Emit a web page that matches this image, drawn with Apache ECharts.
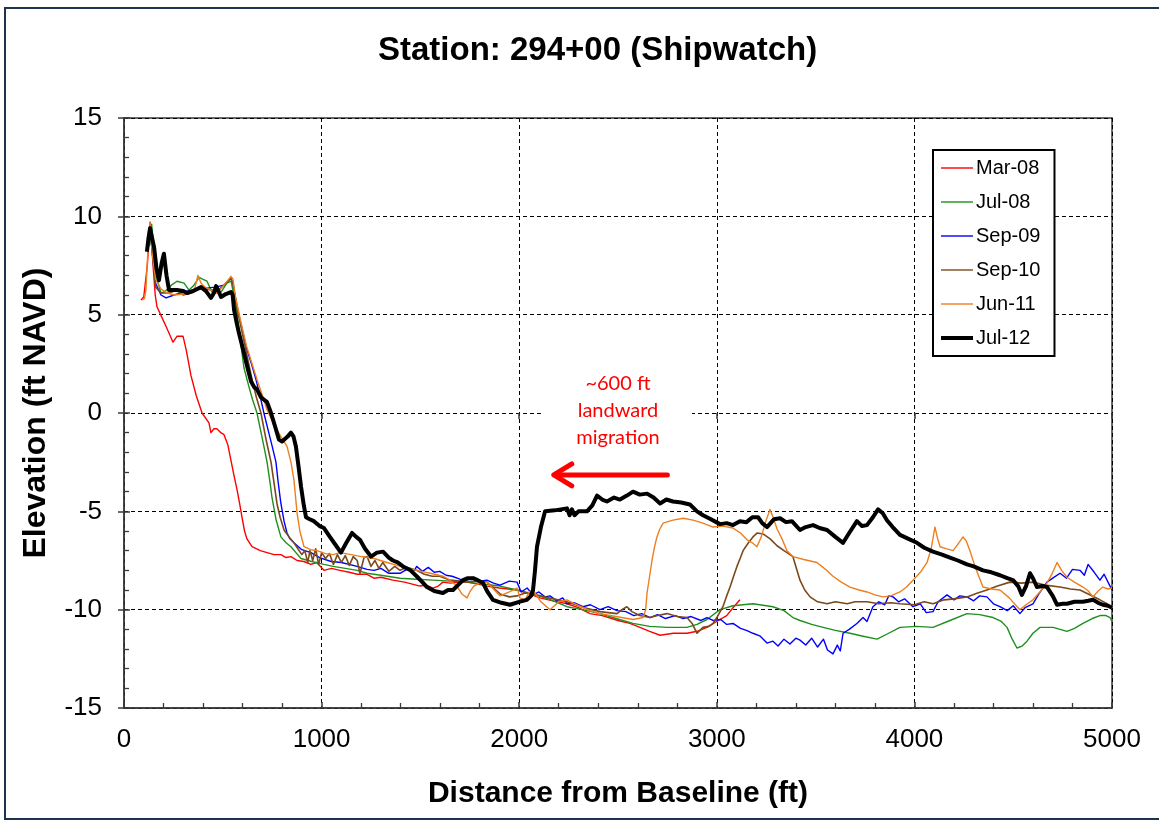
<!DOCTYPE html>
<html>
<head>
<meta charset="utf-8">
<script src="https://cdn.jsdelivr.net/npm/echarts@6/dist/echarts.min.js"></script>
<style>
  html, body { margin: 0; padding: 0; background: #fff; overflow: hidden; width: 1159px; height: 822px; }
  #frame { position: absolute; left: 4px; top: 7px; width: 1300px; height: 813px;
           border-left: 2px solid #1e3350; border-top: 2px solid #1e3350; border-bottom: 2px solid #1e3350;
           box-sizing: border-box; }
  #chart { position: absolute; left: 0; top: 0; width: 1159px; height: 822px; }
</style>
</head>
<body>
<div id="frame"></div>
<div id="chart"></div>
<script>
// ---------- data (distance ft, elevation ft NAVD) ----------
const seriesNames = ['Mar-08', 'Jul-08', 'Sep-09', 'Sep-10', 'Jun-11', 'Jul-12'];
const seriesColors = ['#ff0000', '#1f8f1f', '#0000ff', '#7a4a1c', '#ee7f1e', '#000000'];
const xTicks = [0, 1000, 2000, 3000, 4000, 5000];
const yTicks = [-15, -10, -5, 0, 5, 10, 15];

const mar08 = [[86,5.75],[100,5.9],[118,7.5],[132,9.7],[145,7.8],[158,6.0],[167,5.4],[190,4.9],[213,4.4],[248,3.6],[268,3.9],[299,3.9],[315,3.2],[339,1.9],[365,0.9],[395,0.0],[430,-0.5],[440,-1.0],[455,-0.8],[470,-0.8],[490,-1.0],[506,-1.1],[525,-1.6],[541,-2.4],[557,-3.2],[572,-3.9],[585,-4.6],[597,-5.3],[610,-6.0],[622,-6.4],[648,-6.8],[690,-7.0],[724,-7.1],[760,-7.2],[794,-7.2],[820,-7.35],[845,-7.3],[876,-7.5],[910,-7.55],[946,-7.7],[975,-7.6],[1012,-8.0],[1050,-7.9],[1093,-8.0],[1140,-8.1],[1180,-8.2],[1230,-8.2],[1265,-8.4],[1300,-8.35],[1361,-8.5],[1420,-8.6],[1498,-8.8],[1530,-8.75],[1564,-8.9],[1590,-8.8],[1614,-8.6],[1650,-8.65],[1700,-8.6],[1736,-8.6],[1790,-8.7],[1837,-8.8],[1900,-8.9],[1989,-9.0],[2050,-9.2],[2105,-9.4],[2170,-9.55],[2242,-9.7],[2300,-9.9],[2358,-10.2],[2420,-10.3],[2500,-10.55],[2560,-10.7],[2611,-10.9],[2660,-11.1],[2713,-11.3],[2780,-11.2],[2849,-11.2],[2900,-11.1],[2950,-10.9],[3016,-10.5],[3050,-10.3],[3082,-9.9],[3117,-9.5]];

const jul08 = [[130,8.5],[140,9.6],[150,8.4],[165,6.9],[187,6.1],[210,6.2],[240,6.5],[268,6.7],[304,6.6],[329,6.25],[354,6.5],[380,6.9],[400,6.8],[420,6.7],[445,6.15],[470,6.2],[491,6.15],[521,6.6],[542,6.7],[557,5.9],[567,5.5],[585,4.0],[607,2.3],[633,1.3],[650,0.7],[673,0],[700,-1.3],[724,-2.5],[740,-3.6],[749,-4.3],[769,-5.4],[794,-6.3],[820,-6.6],[845,-6.8],[870,-7.1],[896,-7.4],[950,-7.55],[1012,-7.7],[1058,-7.8],[1120,-7.9],[1180,-8.0],[1230,-8.15],[1300,-8.25],[1397,-8.4],[1480,-8.45],[1564,-8.5],[1650,-8.55],[1736,-8.6],[1820,-8.7],[1903,-8.8],[1990,-9.0],[2070,-9.2],[2160,-9.5],[2242,-9.85],[2320,-10.0],[2409,-10.2],[2490,-10.45],[2576,-10.7],[2660,-10.85],[2748,-10.9],[2849,-10.9],[2900,-10.75],[2950,-10.5],[3016,-10.0],[3082,-9.8],[3183,-9.7],[3284,-9.85],[3340,-10.05],[3385,-10.4],[3421,-10.55],[3480,-10.75],[3538,-10.9],[3600,-11.05],[3674,-11.2],[3740,-11.35],[3811,-11.5],[3860,-11.25],[3927,-10.9],[4010,-10.85],[4094,-10.9],[4180,-10.55],[4266,-10.2],[4330,-10.25],[4398,-10.4],[4440,-10.6],[4469,-10.9],[4495,-11.5],[4519,-11.95],[4545,-11.85],[4570,-11.6],[4600,-11.2],[4636,-10.9],[4702,-10.9],[4772,-11.1],[4810,-10.95],[4853,-10.7],[4900,-10.45],[4939,-10.3],[4970,-10.3],[4990,-10.4],[5000,-10.6]];

const sep09 = [[132,9.5],[145,8.0],[160,6.6],[187,6.0],[213,5.85],[253,6.0],[300,6.15],[339,6.25],[380,6.3],[420,6.35],[460,6.4],[506,6.5],[530,6.75],[541,6.85],[552,6.6],[560,6.0],[590,4.6],[620,3.3],[645,2.5],[668,1.7],[690,0.8],[708,0],[730,-0.9],[750,-1.7],[769,-2.5],[780,-3.5],[794,-4.6],[810,-5.5],[825,-6.1],[840,-6.4],[860,-6.6],[900,-6.95],[946,-7.1],[990,-7.35],[1048,-7.55],[1100,-7.6],[1180,-7.8],[1230,-7.95],[1265,-8.0],[1300,-7.9],[1340,-8.15],[1397,-8.15],[1440,-7.9],[1470,-8.0],[1481,-7.8],[1510,-8.05],[1540,-7.85],[1570,-8.1],[1598,-8.05],[1630,-8.25],[1660,-8.3],[1700,-8.45],[1736,-8.5],[1770,-8.35],[1800,-8.55],[1837,-8.5],[1870,-8.65],[1903,-8.75],[1950,-8.55],[1989,-8.6],[2010,-9.1],[2040,-8.9],[2070,-9.25],[2100,-9.1],[2130,-9.35],[2156,-9.3],[2190,-9.55],[2220,-9.4],[2242,-9.7],[2280,-9.65],[2323,-9.85],[2360,-9.75],[2409,-10.0],[2450,-9.85],[2495,-10.05],[2540,-10.1],[2580,-10.3],[2620,-10.2],[2662,-10.4],[2700,-10.25],[2740,-10.45],[2790,-10.3],[2830,-10.45],[2870,-10.35],[2920,-10.55],[2950,-10.4],[2981,-10.55],[3020,-10.5],[3050,-10.75],[3082,-10.7],[3120,-10.95],[3150,-11.05],[3183,-11.2],[3220,-11.35],[3254,-11.7],[3284,-11.6],[3310,-11.85],[3340,-11.5],[3370,-11.75],[3400,-11.45],[3421,-11.55],[3450,-11.8],[3480,-11.45],[3510,-11.9],[3540,-11.5],[3560,-12.05],[3588,-12.25],[3610,-11.8],[3625,-12.1],[3639,-11.2],[3670,-11.0],[3709,-10.7],[3740,-10.4],[3760,-10.6],[3790,-9.85],[3820,-9.6],[3850,-9.75],[3870,-9.3],[3892,-9.35],[3920,-9.6],[3950,-9.45],[3993,-9.85],[4030,-9.7],[4060,-10.15],[4094,-10.1],[4120,-9.6],[4165,-9.25],[4200,-9.5],[4230,-9.3],[4266,-9.35],[4300,-9.55],[4330,-9.3],[4367,-9.35],[4400,-9.7],[4433,-9.85],[4470,-10.05],[4500,-9.8],[4534,-10.2],[4560,-9.9],[4600,-9.7],[4630,-9.2],[4671,-8.6],[4700,-8.4],[4737,-8.15],[4770,-8.4],[4800,-7.95],[4838,-8.0],[4860,-8.25],[4879,-7.7],[4910,-8.1],[4939,-8.5],[4960,-8.2],[4990,-8.8],[5000,-9.0]];

const sep10 = [[132,9.5],[145,8.0],[160,6.4],[187,6.1],[230,6.1],[268,6.25],[300,6.0],[339,6.1],[380,6.4],[420,6.3],[470,6.2],[506,6.5],[541,6.85],[555,6.4],[575,5.2],[600,4.0],[625,2.8],[648,1.7],[670,0.8],[693,0],[720,-1.4],[744,-2.5],[760,-3.6],[774,-4.6],[790,-5.3],[810,-5.95],[835,-6.3],[860,-6.6],[880,-6.9],[900,-7.2],[915,-7.0],[930,-7.6],[941,-7.0],[955,-7.5],[970,-6.9],[985,-7.7],[1000,-7.1],[1020,-7.4],[1040,-7.15],[1060,-7.7],[1080,-7.2],[1100,-7.6],[1120,-7.25],[1140,-7.75],[1160,-7.3],[1180,-7.5],[1194,-8.15],[1215,-7.35],[1230,-7.3],[1250,-7.8],[1270,-7.5],[1290,-7.9],[1310,-7.6],[1340,-8.05],[1370,-7.8],[1397,-8.0],[1430,-7.85],[1481,-8.0],[1520,-8.2],[1560,-8.3],[1598,-8.3],[1650,-8.5],[1700,-8.55],[1736,-8.6],[1790,-8.55],[1837,-8.6],[1870,-8.9],[1903,-9.2],[1950,-9.35],[1989,-9.3],[2030,-9.15],[2070,-9.2],[2150,-9.4],[2242,-9.6],[2330,-9.9],[2409,-10.1],[2450,-10.15],[2495,-10.2],[2520,-10.0],[2545,-9.85],[2570,-10.1],[2610,-10.3],[2662,-10.4],[2700,-10.3],[2748,-10.2],[2800,-10.35],[2849,-10.4],[2875,-10.7],[2900,-11.2],[2930,-10.9],[2960,-10.85],[2981,-10.7],[3000,-10.4],[3031,-9.85],[3050,-9.3],[3067,-8.85],[3085,-8.3],[3102,-7.8],[3120,-7.35],[3133,-7.0],[3160,-6.6],[3183,-6.3],[3205,-6.1],[3234,-6.15],[3270,-6.4],[3305,-6.75],[3340,-7.0],[3385,-7.3],[3400,-7.8],[3421,-8.5],[3445,-9.0],[3472,-9.35],[3510,-9.6],[3558,-9.7],[3600,-9.6],[3660,-9.7],[3700,-9.6],[3760,-9.6],[3820,-9.7],[3880,-9.65],[3927,-9.7],[4000,-9.75],[4050,-9.6],[4094,-9.7],[4150,-9.5],[4200,-9.45],[4266,-9.35],[4320,-9.15],[4367,-9.0],[4420,-8.8],[4484,-8.6],[4540,-8.65],[4600,-8.6],[4660,-8.75],[4737,-8.85],[4790,-8.95],[4838,-9.0],[4890,-9.25],[4939,-9.5],[4975,-9.7],[5000,-9.9]];

const jun11 = [[91,5.75],[103,5.8],[111,6.25],[122,8.5],[132,9.7],[145,8.0],[160,6.8],[187,6.3],[220,6.1],[253,6.0],[300,6.05],[339,6.1],[360,6.4],[374,7.0],[390,6.6],[410,6.4],[440,6.25],[470,6.1],[506,6.5],[541,6.95],[552,6.8],[562,6.0],[590,4.7],[620,3.4],[648,2.5],[673,1.7],[700,0.9],[724,0.15],[760,-0.6],[794,-1.2],[825,-1.7],[845,-2.5],[860,-3.4],[876,-5.1],[890,-6.0],[911,-6.8],[945,-6.95],[977,-7.0],[1020,-7.15],[1058,-7.2],[1093,-7.1],[1150,-7.2],[1200,-7.3],[1265,-7.4],[1331,-7.6],[1400,-7.8],[1481,-8.0],[1550,-8.15],[1614,-8.3],[1650,-8.5],[1685,-8.8],[1710,-9.2],[1736,-9.4],[1750,-9.1],[1770,-8.8],[1800,-8.65],[1837,-8.6],[1870,-8.95],[1903,-9.3],[1950,-9.1],[1989,-8.9],[2004,-9.4],[2030,-9.5],[2050,-9.1],[2070,-9.0],[2110,-9.6],[2156,-10.0],[2200,-9.6],[2242,-9.5],[2300,-9.8],[2358,-10.05],[2409,-10.2],[2490,-10.35],[2576,-10.5],[2627,-10.4],[2640,-10.0],[2647,-9.15],[2660,-8.3],[2672,-7.5],[2685,-6.8],[2697,-6.3],[2712,-5.9],[2728,-5.6],[2778,-5.45],[2830,-5.35],[2880,-5.45],[2930,-5.6],[2981,-5.8],[3030,-5.75],[3082,-5.85],[3120,-6.1],[3153,-6.45],[3180,-6.6],[3203,-6.8],[3225,-6.3],[3245,-5.6],[3269,-4.9],[3285,-5.3],[3305,-5.9],[3330,-6.4],[3355,-7.0],[3385,-7.3],[3440,-7.45],[3507,-7.6],[3550,-7.95],[3588,-8.3],[3630,-8.6],[3674,-8.85],[3720,-9.0],[3760,-9.1],[3800,-9.25],[3841,-9.35],[3880,-9.3],[3927,-9.1],[3960,-8.85],[3993,-8.5],[4030,-8.1],[4064,-7.6],[4085,-6.9],[4104,-5.8],[4118,-6.4],[4130,-6.8],[4160,-6.9],[4196,-7.0],[4225,-6.6],[4246,-6.3],[4262,-6.5],[4281,-7.0],[4310,-7.9],[4347,-8.85],[4390,-8.95],[4433,-9.0],[4480,-9.4],[4534,-10.0],[4565,-9.75],[4600,-9.5],[4635,-9.1],[4671,-8.65],[4700,-8.1],[4722,-7.6],[4745,-8.0],[4772,-8.35],[4810,-8.6],[4853,-8.85],[4880,-9.05],[4904,-9.35],[4930,-9.05],[4954,-8.85],[4980,-8.95],[5000,-8.9]];

const jul12 = [[116,8.2],[124,8.9],[132,9.4],[142,8.9],[152,8.45],[165,7.3],[177,6.75],[190,7.6],[202,8.1],[215,7.0],[228,6.25],[268,6.25],[300,6.2],[319,6.1],[350,6.2],[390,6.4],[415,6.2],[440,5.85],[455,6.1],[466,6.45],[478,6.2],[491,5.9],[515,6.05],[541,6.15],[550,6.0],[557,5.25],[570,4.6],[582,4.05],[607,3.05],[625,2.3],[643,1.6],[660,1.3],[673,1.2],[693,0.8],[724,0.55],[744,0],[765,-0.7],[784,-1.35],[800,-1.45],[810,-1.45],[828,-1.2],[845,-1.0],[858,-1.2],[870,-1.7],[883,-2.7],[896,-3.75],[910,-4.7],[921,-5.3],[940,-5.4],[961,-5.5],[990,-5.75],[1012,-5.85],[1042,-6.3],[1070,-6.7],[1098,-7.1],[1125,-6.6],[1154,-6.1],[1175,-6.3],[1194,-6.45],[1220,-6.9],[1250,-7.3],[1280,-7.1],[1311,-7.05],[1340,-7.35],[1361,-7.5],[1385,-7.6],[1412,-7.8],[1450,-8.0],[1481,-8.3],[1510,-8.6],[1533,-8.85],[1570,-9.05],[1614,-9.15],[1640,-9.0],[1665,-9.0],[1690,-8.75],[1716,-8.5],[1740,-8.4],[1766,-8.4],[1790,-8.5],[1817,-8.65],[1840,-9.1],[1867,-9.5],[1910,-9.65],[1953,-9.75],[2000,-9.6],[2039,-9.5],[2060,-9.3],[2070,-9.0],[2080,-8.0],[2090,-6.8],[2110,-5.8],[2131,-5.0],[2180,-4.95],[2242,-4.85],[2255,-5.2],[2267,-4.9],[2280,-5.2],[2300,-5.0],[2343,-5.0],[2370,-4.7],[2394,-4.2],[2420,-4.4],[2444,-4.5],[2480,-4.3],[2510,-4.4],[2545,-4.2],[2576,-4.0],[2610,-4.15],[2647,-4.1],[2680,-4.3],[2713,-4.6],[2745,-4.4],[2778,-4.5],[2820,-4.55],[2864,-4.65],[2900,-5.0],[2930,-5.2],[2970,-5.4],[3016,-5.65],[3050,-5.6],[3082,-5.7],[3117,-5.5],[3150,-5.55],[3180,-5.3],[3209,-5.3],[3230,-5.6],[3254,-5.8],[3290,-5.4],[3320,-5.35],[3350,-5.55],[3380,-5.5],[3421,-5.95],[3450,-5.8],[3487,-5.7],[3520,-5.85],[3558,-5.95],[3600,-6.3],[3639,-6.6],[3670,-6.1],[3709,-5.5],[3735,-5.75],[3760,-5.7],[3790,-5.3],[3816,-4.9],[3840,-5.1],[3861,-5.45],[3890,-5.8],[3927,-6.2],[3970,-6.4],[4013,-6.6],[4050,-6.85],[4094,-7.05],[4140,-7.2],[4180,-7.35],[4220,-7.5],[4266,-7.7],[4300,-7.8],[4347,-8.0],[4390,-8.1],[4433,-8.25],[4470,-8.4],[4499,-8.5],[4525,-8.8],[4544,-9.25],[4565,-8.8],[4585,-8.15],[4600,-8.4],[4620,-8.85],[4650,-8.8],[4671,-8.85],[4700,-9.3],[4722,-9.75],[4750,-9.7],[4772,-9.7],[4810,-9.6],[4853,-9.6],[4880,-9.55],[4904,-9.5],[4930,-9.65],[4954,-9.75],[4980,-9.8],[5000,-9.9]];

const seriesData = [mar08, jul08, sep09, sep10, jun11, jul12];
const seriesWidths = [1.4, 1.4, 1.4, 1.6, 1.4, 4];

// annotation (data coords)
const noteLines = ['~600 ft', 'landward', 'migration'];
const noteAt = [2500, 0.15];
const arrowFrom = [2750, -3.15];
const arrowTo = [2175, -3.15];

// ---------- chart ----------
const FONT = '"Liberation Sans", Arial, Helvetica, sans-serif';
const chart = echarts.init(document.getElementById('chart'), null, { renderer: 'canvas' });

const plain = v => String(v);
const baseX = {
  type: 'value', min: xTicks[0], max: xTicks[xTicks.length - 1], interval: 1000,
  position: 'bottom'
};
const baseY = {
  type: 'value', min: yTicks[0], max: yTicks[yTicks.length - 1], interval: 5,
  position: 'left'
};

const option = {
  animation: false,
  backgroundColor: 'transparent',
  title: {
    text: 'Station: 294+00 (Shipwatch)',
    left: 373, top: 29,
    textStyle: { fontFamily: FONT, fontSize: 33, fontWeight: 'bold', color: '#000' }
  },
  grid: {
    left: 124, right: 47, top: 118, bottom: 114,
    show: true, borderColor: '#3a3a3a', borderWidth: 1.5, backgroundColor: 'transparent'
  },
  legend: {
    orient: 'vertical', left: 933, top: 150,
    itemWidth: 32, itemHeight: 14, itemGap: 14,
    padding: [8, 14, 8, 8],
    borderColor: '#000', borderWidth: 2, backgroundColor: '#fff',
    textStyle: { fontFamily: FONT, fontSize: 20, color: '#000', padding: [0, 0, 0, -2] }
  },
  xAxis: [
    Object.assign({}, baseX, {
      name: 'Distance from Baseline (ft)', nameLocation: 'middle', nameGap: 71,
      nameTextStyle: { fontFamily: FONT, fontSize: 30, fontWeight: 'bold', color: '#000' },
      axisLine: { show: true, onZero: false, lineStyle: { color: '#3a3a3a', width: 1.5 } },
      axisTick: { show: true, inside: true, length: 6, lineStyle: { color: '#3a3a3a', width: 1.5 } },
      minorTick: { show: true, splitNumber: 5, length: 5, lineStyle: { color: '#3a3a3a', width: 1.3 } },
      axisLabel: { fontFamily: FONT, fontSize: 26, color: '#000', margin: 19, formatter: plain },
      splitLine: { show: true, lineStyle: { color: '#000', type: [4, 3], width: 1 } }
    }),
    Object.assign({}, baseX, {
      axisLine: { show: false },
      axisTick: { show: true, inside: false, length: 6, lineStyle: { color: '#3a3a3a', width: 1.5 } },
      axisLabel: { show: false }, splitLine: { show: false }
    })
  ],
  yAxis: [
    Object.assign({}, baseY, {
      name: 'Elevation (ft NAVD)', nameLocation: 'middle', nameGap: 72, nameRotate: 90,
      nameTextStyle: { fontFamily: FONT, fontSize: 32, fontWeight: 'bold', color: '#000' },
      axisLine: { show: true, onZero: false, lineStyle: { color: '#3a3a3a', width: 1.5 } },
      axisTick: { show: true, inside: true, length: 6, lineStyle: { color: '#3a3a3a', width: 1.5 } },
      minorTick: { show: true, splitNumber: 5, length: 5, lineStyle: { color: '#3a3a3a', width: 1.3 } },
      axisLabel: { fontFamily: FONT, fontSize: 26, color: '#000', margin: 22, formatter: plain },
      splitLine: { show: true, lineStyle: { color: '#000', type: [4, 3], width: 1 } }
    }),
    Object.assign({}, baseY, {
      axisLine: { show: false },
      axisTick: { show: true, inside: false, length: 6, lineStyle: { color: '#3a3a3a', width: 1.5 } },
      axisLabel: { show: false }, splitLine: { show: false }
    })
  ],
  series: seriesNames.map((name, i) => ({
    name: name,
    type: 'line',
    xAxisIndex: 0, yAxisIndex: 0,
    data: seriesData[i],
    showSymbol: false, symbol: 'none',
    color: seriesColors[i],
    lineStyle: { color: seriesColors[i], width: seriesWidths[i], join: 'round' },
    itemStyle: { color: seriesColors[i] },
    z: i === 5 ? 5 : 3
  }))
};
// legend line icons (thin line, thick for Jul-12)
option.legend.data = seriesNames.map((n, i) => ({
  name: n,
  icon: i === 5 ? 'path://M0,0 L32,0 L32,4 L0,4 Z' : 'path://M0,0 L32,0 L32,1.4 L0,1.4 Z',
  itemStyle: { color: seriesColors[i] }
}));

chart.setOption(option);

// annotation + arrow, placed through the axis scales
function placeGraphics() {
  const p = chart.convertToPixel({ xAxisIndex: 0, yAxisIndex: 0 }, noteAt);
  const a0 = chart.convertToPixel({ xAxisIndex: 0, yAxisIndex: 0 }, arrowFrom);
  const a1 = chart.convertToPixel({ xAxisIndex: 0, yAxisIndex: 0 }, arrowTo);
  chart.setOption({
    graphic: [
      {
        type: 'rect', z: 50,
        shape: { x: p[0] - 74, y: p[1] - 44, width: 148, height: 88 },
        style: { fill: '#fff' }
      },
      {
        type: 'text', z: 51,
        x: p[0], y: p[1],
        style: {
          text: noteLines.join('\n'),
          fill: '#ff0000',
          font: '20px Lato, "Open Sans", sans-serif',
          lineHeight: 27,
          align: 'center', verticalAlign: 'middle'
        }
      },
      {
        type: 'polyline', z: 52,
        shape: { points: [a0, [a1[0] + 2, a1[1]]] },
        style: { stroke: '#ff0000', lineWidth: 5, lineCap: 'round' }
      },
      {
        type: 'polyline', z: 52,
        shape: { points: [[a1[0] + 18, a1[1] - 11], [a1[0], a1[1]], [a1[0] + 18, a1[1] + 11]] },
        style: { stroke: '#ff0000', lineWidth: 5, lineCap: 'round', lineJoin: 'round', fill: null }
      }
    ]
  });
}
placeGraphics();
</script>
</body>
</html>
